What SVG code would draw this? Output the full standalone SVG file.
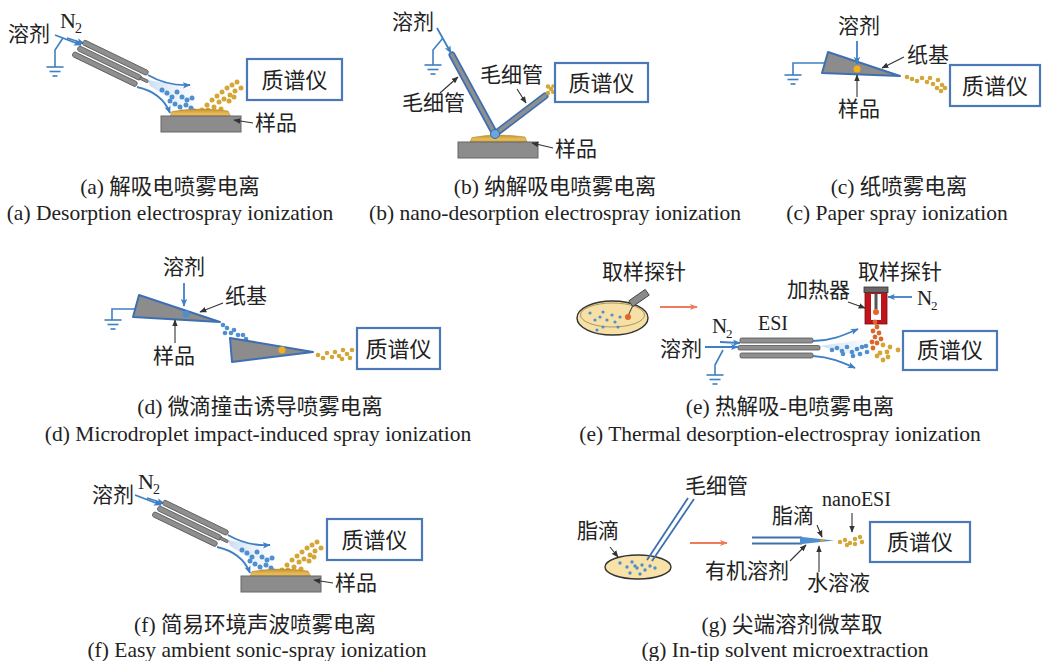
<svg xmlns="http://www.w3.org/2000/svg" xmlns:xlink="http://www.w3.org/1999/xlink" width="1043" height="661" viewBox="0 0 1043 661">
  <style>
    .lbl { font-family: "Noto Sans CJK SC", "Noto Sans", sans-serif; font-size: 21px; fill: #222; }
    .ms { font-family: "Noto Sans CJK SC", "Noto Sans", sans-serif; font-size: 22px; fill: #222; text-anchor: middle; }
    .ser { font-family: "Liberation Serif", "Noto Sans CJK SC", serif; fill: #222; }
    .cap { font-family: "Liberation Serif", "Noto Sans CJK SC", serif; font-size: 21.5px; fill: #222; text-anchor: middle; }
    .box { fill: #fff; stroke: #4a78b8; stroke-width: 2.2; }
    .tube { fill: #8f8f8f; stroke: #555; stroke-width: 0.8; }
    .base { fill: #8c8c8c; stroke: #666; stroke-width: 1; }
    .flow { fill: none; stroke: #3f7fc4; stroke-width: 1.8; }
    .lead { fill: none; stroke: #333; stroke-width: 1.1; }
    .gnd { fill: none; stroke: #3f7fc4; stroke-width: 1.6; }
    .paper { fill: #8c8c8c; stroke: #3e6fb0; stroke-width: 2; stroke-linejoin: round; }
    .db { fill: #4f8fd0; }
    .dg { fill: #d4a537; }
    .do { fill: #d9692a; }
    .orarrow { stroke: #f07a5a; stroke-width: 1.8; fill: none; }
  </style>
  <defs>
    <marker id="ahBlue" viewBox="0 0 10 10" refX="9" refY="5" markerWidth="8" markerHeight="8" orient="auto" markerUnits="userSpaceOnUse">
      <path d="M0,1 L10,5 L0,9 L2.5,5 Z" fill="#3f7fc4"/>
    </marker>
    <marker id="ahBlack" viewBox="0 0 10 10" refX="9" refY="5" markerWidth="7" markerHeight="7" orient="auto" markerUnits="userSpaceOnUse">
      <path d="M0,1 L10,5 L0,9 Z" fill="#333"/>
    </marker>
    <marker id="ahOrange" viewBox="0 0 10 10" refX="9" refY="5" markerWidth="8" markerHeight="8" orient="auto" markerUnits="userSpaceOnUse">
      <path d="M0,1 L10,5 L0,9 L2.5,5 Z" fill="#f07a5a"/>
    </marker>
    <linearGradient id="goldGrad" x1="0" y1="0" x2="0" y2="1">
      <stop offset="0" stop-color="#c8922a"/>
      <stop offset="0.6" stop-color="#e6bd5c"/>
      <stop offset="1" stop-color="#d7a640"/>
    </linearGradient>
    <linearGradient id="hazeH" x1="0" y1="0" x2="1" y2="0">
      <stop offset="0" stop-color="#9fc3ea" stop-opacity="0.8"/>
      <stop offset="1" stop-color="#cfe0f3" stop-opacity="0.1"/>
    </linearGradient>

    <!-- ground symbol, origin at the top of the first bar -->
    <g id="ground">
      <line x1="-8.5" y1="0" x2="8.5" y2="0" class="gnd"/>
      <line x1="-5.5" y1="4.5" x2="5.5" y2="4.5" class="gnd"/>
      <line x1="-2.5" y1="9" x2="2.5" y2="9" class="gnd"/>
    </g>

    <!-- angled desorption sprayer with spray plume and sample slide -->
    <g id="desiSetup">
      <line x1="55" y1="35" x2="81" y2="45" class="flow" marker-end="url(#ahBlue)"/>
      <line x1="67" y1="38" x2="84" y2="43.5" class="flow" marker-end="url(#ahBlue)"/>
      <g transform="translate(83,42) rotate(25.8)">
        <rect x="0" y="-2.6" width="72" height="5.2" rx="2" class="tube"/>
        <rect x="-2" y="4.9" width="70" height="5.2" rx="2" class="tube"/>
        <rect x="67" y="6.2" width="9" height="2.6" rx="1" class="tube"/>
        <rect x="-4" y="12.4" width="71" height="5.2" rx="2" class="tube"/>
      </g>
      <polygon points="148,80 196,88 192,112 150,86" fill="url(#hazeH)" opacity="0.7"/>
      <path d="M148,75 C160,82 172,86 190,85" class="flow" marker-end="url(#ahBlue)"/>
      <path d="M137,87 C155,91 165,100 170,113" class="flow" marker-end="url(#ahBlue)"/>
      <g class="db">
        <circle cx="162" cy="90" r="2.5"/><circle cx="167" cy="93" r="2.5"/><circle cx="172" cy="97" r="2.5"/>
        <circle cx="177" cy="92" r="2.5"/><circle cx="182" cy="97" r="2.5"/><circle cx="187" cy="100" r="2.5"/>
        <circle cx="192" cy="98" r="2.5"/><circle cx="170" cy="101" r="2.5"/><circle cx="175" cy="104" r="2.5"/>
        <circle cx="180" cy="107" r="2.5"/><circle cx="186" cy="105" r="2.5"/><circle cx="191" cy="108" r="2.5"/>
        <circle cx="182" cy="112" r="2.5"/><circle cx="194" cy="111" r="2.5"/><circle cx="188" cy="113" r="2.5"/>
      </g>
      <g class="dg">
        <circle cx="202" cy="110" r="2.5"/><circle cx="207" cy="105" r="2.5"/><circle cx="212" cy="100" r="2.5"/>
        <circle cx="217" cy="96" r="2.5"/><circle cx="222" cy="92" r="2.5"/><circle cx="227" cy="88" r="2.5"/>
        <circle cx="232" cy="85" r="2.5"/><circle cx="237" cy="82" r="2.5"/><circle cx="208" cy="110" r="2.5"/>
        <circle cx="214" cy="107" r="2.5"/><circle cx="219" cy="102" r="2.5"/><circle cx="224" cy="99" r="2.5"/>
        <circle cx="230" cy="95" r="2.5"/><circle cx="235" cy="91" r="2.5"/><circle cx="241" cy="88" r="2.5"/>
        <circle cx="221" cy="109" r="2.5"/><circle cx="229" cy="101" r="2.5"/><circle cx="234" cy="97" r="2.5"/>
      </g>
      <path d="M170,117 L172,111.5 Q200,107 228,111 L231,117 Z" fill="url(#goldGrad)" stroke="#b8892a" stroke-width="0.6"/>
      <rect x="161" y="116" width="80" height="16" class="base"/>
      <line x1="253" y1="123" x2="234" y2="120" class="lead" marker-end="url(#ahBlack)"/>
    </g>
  </defs>

  <rect width="1043" height="661" fill="#fff"/>

  <!-- (a) desorption electrospray ionization -->
  <g id="panel-a">
    <g id="a-source">
      <use href="#desiSetup"/>
      <polyline points="63,38 55,50 55,67" class="gnd"/>
      <use href="#ground" x="55" y="67"/>
    </g>
    <g id="a-ms"><rect x="247" y="59" width="95" height="41" class="box"/><text x="294.5" y="88" class="ms">质谱仪</text></g>
    <text x="8" y="41" class="lbl">溶剂</text>
    <text x="60" y="28" class="ser" font-size="22">N</text><text x="75" y="33" class="ser" font-size="14">2</text>
    <text x="255" y="130" class="lbl">样品</text>
  </g>

  <!-- (b) nano-desorption electrospray ionization -->
  <g id="panel-b">
    <g id="b-probe">
      <line x1="452" y1="55" x2="495" y2="134" stroke="#3e6fb0" stroke-width="7" stroke-linecap="round"/>
      <line x1="452" y1="55" x2="495" y2="134" stroke="#8f8f8f" stroke-width="3.6" stroke-linecap="round"/>
      <line x1="495" y1="134" x2="545" y2="96" stroke="#3e6fb0" stroke-width="7" stroke-linecap="round"/>
      <line x1="495" y1="134" x2="545" y2="96" stroke="#8f8f8f" stroke-width="3.6" stroke-linecap="round"/>
      <g class="dg">
        <circle cx="548" cy="93" r="2.2"/><circle cx="551" cy="89" r="2.2"/><circle cx="548" cy="86.5" r="2.2"/>
        <circle cx="553" cy="92" r="2"/><circle cx="553" cy="86" r="1.8"/>
      </g>
      <path d="M470,142 L472,137.5 Q498,133 525,137 L527,142 Z" fill="url(#goldGrad)" stroke="#b8892a" stroke-width="0.6"/>
      <rect x="458" y="142" width="80" height="16" class="base"/>
      <circle cx="495" cy="134" r="4.5" fill="#6aa6dc" stroke="#2f6db0" stroke-width="1"/>
      <polyline points="443,38 433,50 433,65" class="gnd"/>
      <use href="#ground" x="433" y="65"/>
    </g>
    <g id="b-ms"><rect x="555" y="63" width="93" height="39" class="box"/><text x="601.5" y="91" class="ms">质谱仪</text></g>
    <text x="392" y="29" class="lbl">溶剂</text>
    <text x="402" y="110" class="lbl">毛细管</text>
    <text x="480" y="82" class="lbl">毛细管</text>
    <text x="555" y="156" class="lbl">样品</text>
  </g>

  <!-- (c) paper spray ionization -->
  <g id="panel-c">
    <g id="c-paper">
      <polyline points="826,63 793,63 793,75" class="gnd"/>
      <use href="#ground" x="793" y="75"/>
      <polygon points="828,52 822,73 900,76" class="paper"/>
      <circle cx="857" cy="69" r="3.5" fill="#f0b020"/>
      <g class="dg">
        <circle cx="907" cy="77" r="2.3"/><circle cx="912" cy="79" r="2.3"/><circle cx="917" cy="81" r="2.3"/>
        <circle cx="922" cy="78" r="2.3"/><circle cx="927" cy="82" r="2.3"/><circle cx="930" cy="78" r="2.3"/>
        <circle cx="933" cy="84" r="2.3"/><circle cx="938" cy="80" r="2.3"/><circle cx="942" cy="85" r="2.3"/>
        <circle cx="937" cy="88" r="2.3"/><circle cx="945" cy="88" r="2.3"/><circle cx="941" cy="91" r="2.3"/>
      </g>
    </g>
    <g id="c-ms"><rect x="950" y="65" width="90" height="41" class="box"/><text x="995" y="94" class="ms">质谱仪</text></g>
    <text x="838" y="33" class="lbl">溶剂</text>
    <text x="907" y="62" class="lbl">纸基</text>
    <text x="838" y="116" class="lbl">样品</text>
  </g>

  <!-- (d) microdroplet impact-induced spray ionization -->
  <g id="panel-d">
    <g id="d-paper1">
      <polyline points="136,309 112,309 112,320" class="gnd"/>
      <use href="#ground" x="113" y="320"/>
      <polygon points="139,295 133,317 220,322" class="paper"/>
      <circle cx="186" cy="314" r="3.5" fill="#4f8fd0"/>
    </g>
    <g class="db">
      <circle cx="223" cy="325" r="2.3"/><circle cx="227" cy="328" r="2.3"/><circle cx="225" cy="333" r="2.3"/>
      <circle cx="231" cy="333" r="2.3"/><circle cx="234" cy="330" r="2.3"/><circle cx="238" cy="335" r="2.3"/>
      <circle cx="243" cy="335" r="2.3"/><circle cx="246" cy="339" r="2.3"/><circle cx="238" cy="341" r="2.3"/>
      <circle cx="243" cy="343" r="2.3"/><circle cx="241" cy="347" r="2.3"/><circle cx="246" cy="347" r="2.3"/>
    </g>
    <g id="d-paper2">
      <polygon points="230,338 232,362 313,352" class="paper"/>
      <circle cx="282" cy="350" r="3.5" fill="#f0b020"/>
    </g>
    <g class="dg">
      <circle cx="318" cy="355" r="2.3"/><circle cx="323" cy="358" r="2.3"/><circle cx="327" cy="353" r="2.3"/>
      <circle cx="332" cy="357" r="2.3"/><circle cx="335" cy="352" r="2.3"/><circle cx="339" cy="356" r="2.3"/>
      <circle cx="343" cy="350" r="2.3"/><circle cx="347" cy="354" r="2.3"/><circle cx="350" cy="358" r="2.3"/>
      <circle cx="342" cy="359" r="2.3"/><circle cx="352" cy="350" r="2.3"/>
    </g>
    <g id="d-ms"><rect x="357" y="328" width="83" height="41" class="box"/><text x="398.5" y="357" class="ms">质谱仪</text></g>
    <text x="163" y="274" class="lbl">溶剂</text>
    <text x="225" y="303" class="lbl">纸基</text>
    <text x="153" y="363" class="lbl">样品</text>
  </g>

  <!-- (e) thermal desorption-electrospray ionization -->
  <g id="panel-e">
    <g id="e-dish">
      <ellipse cx="612.5" cy="318" rx="35.5" ry="17" fill="#f7e0a6" stroke="#333" stroke-width="1.4"/>
      <ellipse cx="612.5" cy="315" rx="32" ry="12" fill="none" stroke="#8a7540" stroke-width="0.7"/>
      <g class="db">
        <circle cx="590" cy="313" r="1.6"/><circle cx="595" cy="320" r="1.6"/><circle cx="600" cy="317" r="1.6"/>
        <circle cx="603" cy="312" r="1.6"/><circle cx="607" cy="320" r="1.6"/><circle cx="612" cy="315" r="1.6"/>
        <circle cx="615" cy="322" r="1.6"/><circle cx="620" cy="317" r="1.6"/><circle cx="597" cy="330" r="1.6"/>
        <circle cx="603" cy="327" r="1.6"/><circle cx="618" cy="327" r="1.6"/>
      </g>
      <line x1="634" y1="303" x2="628" y2="316" stroke="#555" stroke-width="1.2"/>
      <rect x="629" y="294.5" width="20" height="7" transform="rotate(-35 639 298)" fill="#8a8a8a" stroke="#444" stroke-width="0.9"/>
      <circle cx="628" cy="317" r="3" fill="#e0662a"/>
    </g>
    <g id="e-esi">
      <rect x="740" y="338" width="73" height="5" rx="1.5" class="tube"/>
      <rect x="738" y="345.5" width="82" height="4.5" rx="1.5" class="tube"/>
      <rect x="740" y="353" width="73" height="5" rx="1.5" class="tube"/>
      <polyline points="723,350 715,365 715,375" class="gnd"/>
      <use href="#ground" x="715" y="375"/>
      <polygon points="820,346 872,338 872,360" fill="url(#hazeH)" opacity="0.7"/>
      <g class="db">
        <circle cx="832" cy="350" r="2.3"/><circle cx="837" cy="348" r="2.3"/><circle cx="842" cy="351" r="2.3"/>
        <circle cx="847" cy="347" r="2.3"/><circle cx="852" cy="352" r="2.3"/><circle cx="857" cy="349" r="2.3"/>
        <circle cx="862" cy="347" r="2.3"/><circle cx="867" cy="352" r="2.3"/><circle cx="843" cy="354" r="2.3"/>
        <circle cx="853" cy="356" r="2.3"/><circle cx="860" cy="354" r="2.3"/><circle cx="866" cy="346" r="2.3"/>
      </g>
    </g>
    <g id="e-heater">
      <rect x="865" y="292" width="22" height="32" fill="#c0141c" stroke="#7a0a0e" stroke-width="0.8"/>
      <rect x="871" y="294" width="10" height="26" fill="#fff"/>
      <rect x="874.5" y="294" width="3" height="15" fill="#555"/>
      <rect x="864" y="287" width="24" height="5.5" fill="#666" stroke="#333" stroke-width="0.8"/>
      <circle cx="876" cy="312" r="3" fill="#e0662a"/>
      <g class="do">
        <circle cx="875" cy="322" r="2.4"/><circle cx="877" cy="327" r="2.4"/><circle cx="873" cy="331" r="2.4"/>
        <circle cx="879" cy="333" r="2.4"/><circle cx="875" cy="337" r="2.4"/><circle cx="881" cy="339" r="2.4"/>
        <circle cx="872" cy="342" r="2.4"/><circle cx="877" cy="343" r="2.4"/><circle cx="873" cy="348" r="2.4"/>
      </g>
      <g class="dg">
        <circle cx="883" cy="345" r="2.4"/><circle cx="890" cy="347" r="2.4"/><circle cx="898" cy="350" r="2.4"/>
        <circle cx="887" cy="352" r="2.4"/><circle cx="880" cy="353" r="2.4"/><circle cx="888" cy="357" r="2.4"/>
        <circle cx="883" cy="360" r="2.4"/><circle cx="877" cy="356" r="2.4"/>
      </g>
    </g>
    <g id="e-ms"><rect x="903" y="331" width="94" height="39" class="box"/><text x="950" y="358" class="ms">质谱仪</text></g>
    <text x="602" y="279" class="lbl">取样探针</text>
    <text x="858" y="279" class="lbl">取样探针</text>
    <text x="787" y="297" class="lbl">加热器</text>
    <text x="758" y="330" class="ser" font-size="20">ESI</text>
    <text x="712" y="333" class="ser" font-size="21">N</text><text x="726" y="338" class="ser" font-size="13">2</text>
    <text x="917" y="305" class="ser" font-size="21">N</text><text x="931" y="310" class="ser" font-size="13">2</text>
    <text x="660" y="356" class="lbl">溶剂</text>
  </g>

  <!-- (f) easy ambient sonic-spray ionization -->
  <g id="panel-f">
    <g id="f-source"><use href="#desiSetup" x="80" y="460"/></g>
    <g id="f-ms"><rect x="327" y="519" width="95" height="41" class="box"/><text x="374.5" y="548" class="ms">质谱仪</text></g>
    <text x="92" y="502" class="lbl">溶剂</text>
    <text x="138" y="489" class="ser" font-size="22">N</text><text x="153" y="494" class="ser" font-size="14">2</text>
    <text x="335" y="590" class="lbl">样品</text>
  </g>

  <!-- (g) in-tip solvent microextraction -->
  <g id="panel-g">
    <g id="g-dish">
      <ellipse cx="638" cy="567" rx="33" ry="12" fill="#f8e2a8" stroke="#333" stroke-width="1.4"/>
      <g class="db">
        <circle cx="620" cy="563" r="1.7"/><circle cx="627" cy="567" r="1.7"/><circle cx="632" cy="562" r="1.7"/>
        <circle cx="637" cy="568" r="1.7"/><circle cx="642" cy="565" r="1.7"/><circle cx="645" cy="570" r="1.7"/>
        <circle cx="650" cy="566" r="1.7"/><circle cx="655" cy="568" r="1.7"/><circle cx="630" cy="573" r="1.7"/>
        <circle cx="640" cy="574" r="1.7"/><circle cx="635" cy="566" r="1.7"/>
      </g>
      <line x1="688" y1="498" x2="647" y2="560" stroke="#3e6fb0" stroke-width="1.8"/>
      <line x1="694" y1="499" x2="652" y2="561" stroke="#3e6fb0" stroke-width="1.8"/>
    </g>
    <g id="g-tip">
      <line x1="752" y1="537.5" x2="802" y2="537.5" stroke="#3e6fb0" stroke-width="1.8"/>
      <line x1="752" y1="543.5" x2="802" y2="543.5" stroke="#3e6fb0" stroke-width="1.8"/>
      <polygon points="800,536.8 834,540.5 800,544.2" fill="#4f8fd0"/>
      <circle cx="822" cy="540.5" r="1.8" fill="#d4a537"/>
      <g class="dg">
        <circle cx="840" cy="542" r="2.2"/><circle cx="845" cy="540" r="2.2"/><circle cx="850" cy="543" r="2.2"/>
        <circle cx="855" cy="539" r="2.2"/><circle cx="860" cy="537" r="2.2"/><circle cx="862" cy="542" r="2.2"/>
        <circle cx="855" cy="544" r="2.2"/><circle cx="847" cy="545" r="2.2"/>
      </g>
    </g>
    <g id="g-ms"><rect x="870" y="522" width="100" height="40" class="box"/><text x="920" y="550" class="ms">质谱仪</text></g>
    <text x="685" y="493" class="lbl">毛细管</text>
    <text x="577" y="538" class="lbl">脂滴</text>
    <text x="772" y="523" class="lbl">脂滴</text>
    <text x="822" y="506" class="ser" font-size="20">nanoESI</text>
    <text x="705" y="578" class="lbl">有机溶剂</text>
    <text x="807" y="590" class="lbl">水溶液</text>
  </g>

  <!-- arrows: feeds, gas flow, leaders and step arrows -->
  <g id="connectors">
    <line x1="437" y1="28" x2="451" y2="53" class="flow" marker-end="url(#ahBlue)"/>
    <line x1="440" y1="93" x2="458" y2="77" class="lead" marker-end="url(#ahBlack)"/>
    <line x1="517" y1="89" x2="526" y2="103" class="lead" marker-end="url(#ahBlack)"/>
    <line x1="553" y1="148" x2="532" y2="143" class="lead" marker-end="url(#ahBlack)"/>

    <line x1="857" y1="41" x2="857" y2="64" class="flow" marker-end="url(#ahBlue)"/>
    <line x1="904" y1="57" x2="882" y2="68" class="lead" marker-end="url(#ahBlack)"/>
    <line x1="857" y1="97" x2="857" y2="75" class="lead" marker-end="url(#ahBlack)"/>

    <line x1="184" y1="283" x2="184" y2="306" class="flow" marker-end="url(#ahBlue)"/>
    <line x1="223" y1="303" x2="200" y2="312" class="lead" marker-end="url(#ahBlack)"/>
    <line x1="175" y1="343" x2="175" y2="320" class="lead" marker-end="url(#ahBlack)"/>

    <line x1="660" y1="307" x2="697" y2="307" class="orarrow" marker-end="url(#ahOrange)"/>
    <line x1="705" y1="347" x2="738" y2="347" class="flow" marker-end="url(#ahBlue)"/>
    <line x1="720" y1="342" x2="740" y2="343" class="flow" marker-end="url(#ahBlue)"/>
    <path d="M813,341 C830,341 842,336 858,329" class="flow" marker-end="url(#ahBlue)"/>
    <path d="M813,356 C830,357 842,362 855,368" class="flow" marker-end="url(#ahBlue)"/>
    <line x1="912" y1="297" x2="888" y2="297" class="flow" marker-end="url(#ahBlue)"/>
    <line x1="848" y1="302" x2="865" y2="308" class="lead" marker-end="url(#ahBlack)"/>

    <line x1="610" y1="547" x2="618" y2="557" class="lead" marker-end="url(#ahBlack)"/>
    <line x1="690" y1="543" x2="727" y2="543" class="orarrow" marker-end="url(#ahOrange)"/>
    <line x1="817" y1="525" x2="822" y2="537" class="lead" marker-end="url(#ahBlack)"/>
    <line x1="852" y1="513" x2="852" y2="532" class="lead" marker-end="url(#ahBlack)"/>
    <line x1="790" y1="561" x2="806" y2="545" class="lead" marker-end="url(#ahBlack)"/>
    <line x1="819" y1="572" x2="819" y2="546" class="lead" marker-end="url(#ahBlack)"/>
  </g>

  <!-- captions -->
  <g id="captions">
    <text x="170" y="194" class="cap">(a) 解吸电喷雾电离</text>
    <text x="170" y="220" class="cap">(a) Desorption electrospray ionization</text>
    <text x="555" y="194" class="cap">(b) 纳解吸电喷雾电离</text>
    <text x="555" y="220" class="cap">(b) nano-desorption electrospray ionization</text>
    <text x="899" y="194" class="cap">(c) 纸喷雾电离</text>
    <text x="897" y="220" class="cap">(c) Paper spray ionization</text>
    <text x="260" y="414" class="cap">(d) 微滴撞击诱导喷雾电离</text>
    <text x="258" y="441" class="cap">(d) Microdroplet impact-induced spray ionization</text>
    <text x="790" y="414" class="cap">(e) 热解吸-电喷雾电离</text>
    <text x="780" y="441" class="cap">(e) Thermal desorption-electrospray ionization</text>
    <text x="255" y="632" class="cap">(f) 简易环境声波喷雾电离</text>
    <text x="257" y="657" class="cap">(f) Easy ambient sonic-spray ionization</text>
    <text x="792" y="632" class="cap">(g) 尖端溶剂微萃取</text>
    <text x="785" y="657" class="cap">(g) In-tip solvent microextraction</text>
  </g>
</svg>
